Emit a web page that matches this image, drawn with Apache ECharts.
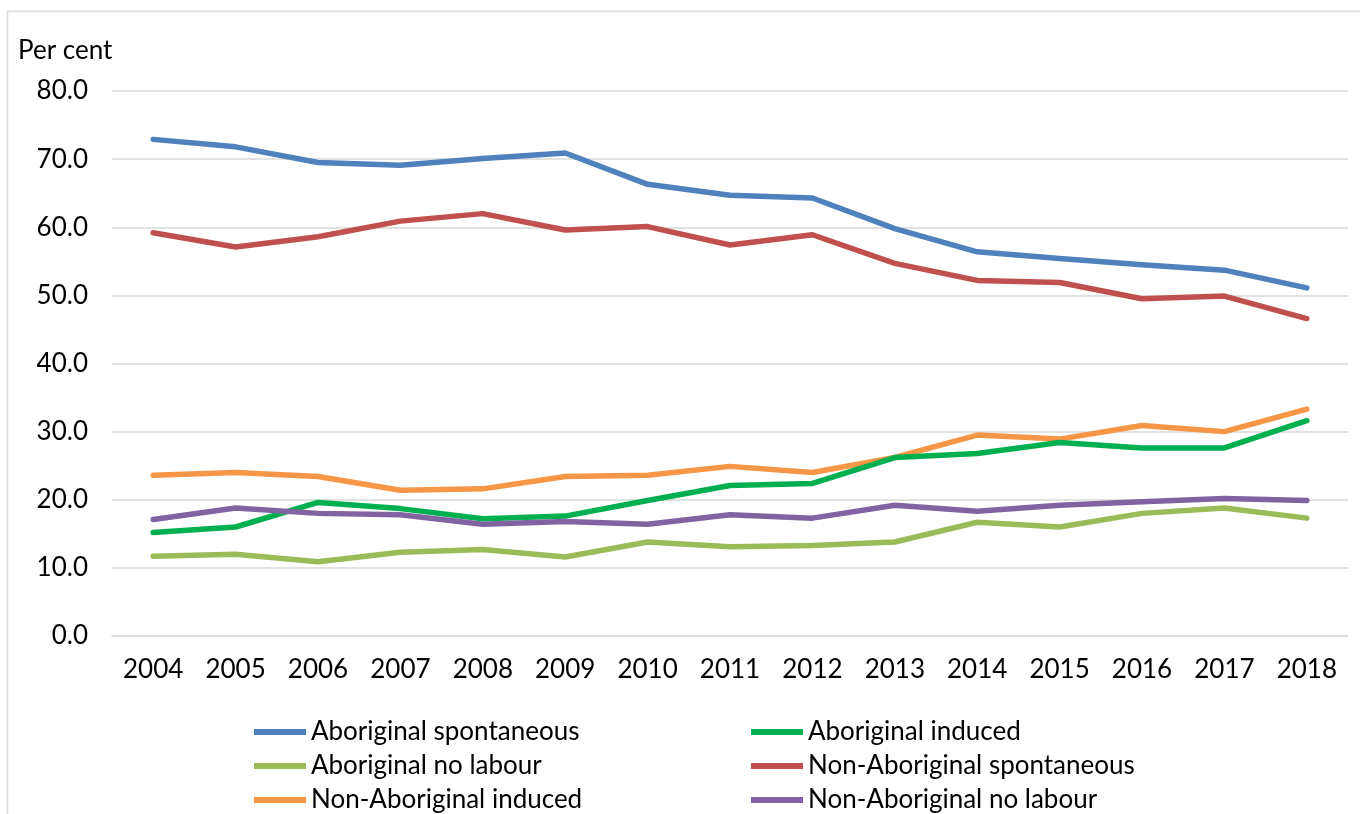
<!DOCTYPE html>
<html lang="en">
<head>
  <meta charset="UTF-8">
  <title>Per cent by year</title>
  <style>
    html, body { margin: 0; padding: 0; background: #fff; }
    #chart { width: 1360px; height: 814px; }
  </style>
</head>
<body>
  <div id="chart"></div>
  <script src="https://cdn.jsdelivr.net/npm/echarts@6/dist/echarts.min.js"></script>
  <script>
    // data
    var years = ['2004', '2005', '2006', '2007', '2008', '2009', '2010', '2011', '2012', '2013', '2014', '2015', '2016', '2017', '2018'];
    var aborigSpont = [72.9, 71.8, 69.5, 69.1, 70.1, 70.9, 66.3, 64.7, 64.3, 59.8, 56.4, 55.4, 54.5, 53.7, 51.1];
    var aborigInduced = [15.2, 16.0, 19.6, 18.7, 17.2, 17.6, 19.9, 22.1, 22.4, 26.2, 26.8, 28.4, 27.6, 27.6, 31.6];
    var aborigNoLabour = [11.7, 12.0, 10.9, 12.3, 12.7, 11.6, 13.8, 13.1, 13.3, 13.8, 16.7, 16.0, 18.0, 18.8, 17.3];
    var nonAborigSpont = [59.2, 57.1, 58.6, 60.9, 62.0, 59.6, 60.1, 57.4, 58.9, 54.7, 52.2, 51.9, 49.5, 49.9, 46.6];
    var nonAborigInduced = [23.6, 24.0, 23.4, 21.4, 21.6, 23.4, 23.6, 24.9, 24.0, 26.2, 29.5, 28.9, 30.9, 30.0, 33.3];
    var nonAborigNoLabour = [17.1, 18.8, 18.0, 17.8, 16.4, 16.8, 16.4, 17.8, 17.3, 19.2, 18.3, 19.2, 19.7, 20.2, 19.9];
    var yTicks = [0, 10, 20, 30, 40, 50, 60, 70, 80];

    var chart = echarts.init(document.getElementById('chart'));
    var font = 'Lato, "Open Sans", sans-serif';

    function line(name, data, color) {
      return {
        name: name,
        type: 'line',
        data: data,
        symbol: 'none',
        color: color,
        itemStyle: { color: color },
        lineStyle: { width: 5.5, color: color, cap: 'round', join: 'round' }
      };
    }

    var legendCommon = {
      orient: 'vertical',
      top: 712,
      height: 120,
      itemWidth: 52,
      itemHeight: 6,
      itemGap: 4,
      icon: 'rect',
      textStyle: { fontFamily: font, fontSize: 26, color: '#000', lineHeight: 30 }
    };

    var option = {
      animation: false,
      textStyle: { fontFamily: font },
      grid: { left: 112, right: 12, top: 91, bottom: 178 },
      graphic: [
        {
          type: 'polyline',
          shape: { points: [[7.5, 814], [7.5, 11.5], [1360, 11.5]] },
          style: { stroke: '#d9d9d9', lineWidth: 1.5, fill: null }
        },
        {
          type: 'text',
          left: 18,
          top: 38,
          style: { text: 'Per cent', fontFamily: font, fontSize: 26, fill: '#000' }
        }
      ],
      legend: [
        Object.assign({ left: 249, data: ['Aboriginal spontaneous', 'Aboriginal no labour', 'Non-Aboriginal induced'] }, legendCommon),
        Object.assign({ left: 746, data: ['Aboriginal induced', 'Non-Aboriginal spontaneous', 'Non-Aboriginal no labour'] }, legendCommon)
      ],
      xAxis: {
        type: 'category',
        data: years,
        boundaryGap: true,
        axisLine: { show: true, lineStyle: { color: '#d9d9d9', width: 1.5 } },
        axisTick: { show: false },
        axisLabel: { fontFamily: font, fontSize: 26, color: '#000', margin: 21 }
      },
      yAxis: {
        type: 'value',
        min: yTicks[0],
        max: yTicks[yTicks.length - 1],
        interval: 10,
        axisLine: { show: false },
        axisTick: { show: false },
        splitLine: { lineStyle: { color: '#d9d9d9', width: 1.5 } },
        axisLabel: {
          fontFamily: font, fontSize: 26, color: '#000', margin: 24,
          formatter: function (v) { return v.toFixed(1); }
        }
      },
      series: [
        line('Aboriginal spontaneous', aborigSpont, '#4F81BD'),
        line('Aboriginal no labour', aborigNoLabour, '#9BBB59'),
        line('Non-Aboriginal induced', nonAborigInduced, '#F79646'),
        line('Aboriginal induced', aborigInduced, '#00B050'),
        line('Non-Aboriginal spontaneous', nonAborigSpont, '#C0504D'),
        line('Non-Aboriginal no labour', nonAborigNoLabour, '#8064A2')
      ]
    };
    chart.setOption(option);
  </script>
</body>
</html>
